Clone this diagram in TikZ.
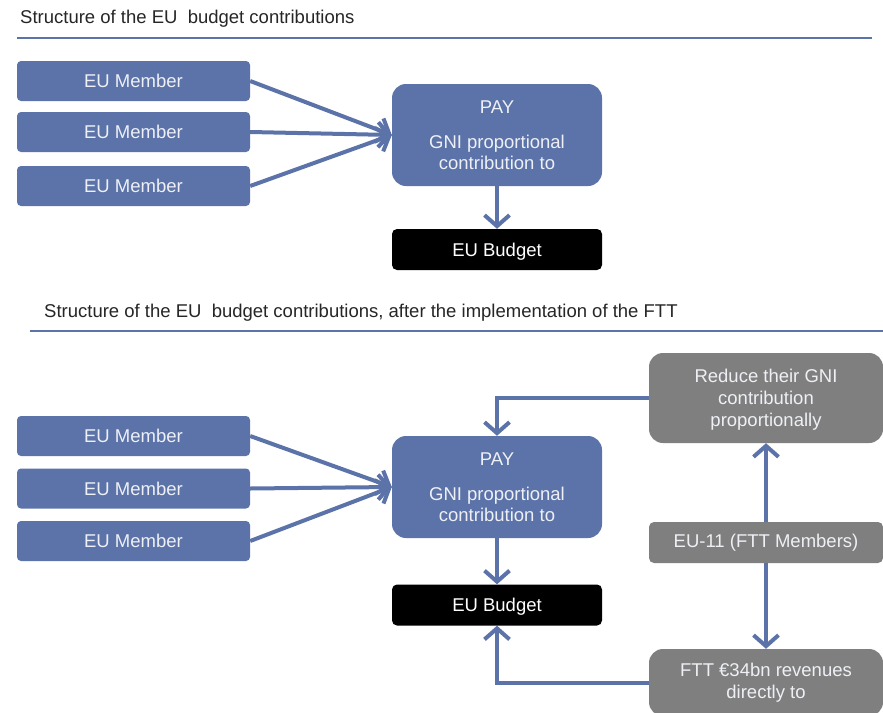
\documentclass[tikz,border=0pt]{standalone}
\usepackage{fontspec}
\setmainfont{Liberation Sans}
\usetikzlibrary{arrows.meta}
\definecolor{eublue}{HTML}{5B73A8}
\definecolor{eugray}{HTML}{7F7F7F}
\definecolor{boxtext}{HTML}{EEF0F5}
\definecolor{titletext}{HTML}{262626}
\begin{document}
\begin{tikzpicture}[x=1pt,y=-1pt,
  member/.style={fill=eublue, rounded corners=4pt, minimum width=233pt, minimum height=40pt, text=boxtext, font=\fontsize{18.5}{21}\selectfont, inner sep=0pt},
  paybox/.style={fill=eublue, rounded corners=14pt, minimum width=210pt, minimum height=102pt, text=boxtext, font=\fontsize{18.5}{21}\selectfont, align=center, inner sep=0pt},
  budget/.style={fill=black, rounded corners=5pt, minimum width=210pt, minimum height=41pt, text=white, font=\fontsize{18.5}{21}\selectfont, inner sep=0pt, text height=13.6pt, text depth=0pt},
  graybox/.style={fill=eugray, text=boxtext, align=center, minimum width=234pt, font=\fontsize{18.5}{22}\selectfont, inner sep=0pt},
  flow/.style={draw=eublue, line width=4pt, -{Straight Barb[length=11pt,width=25pt]}},
  title/.style={anchor=west, font=\fontsize{18.5}{21}\selectfont, text=titletext, inner sep=0pt},
  rulel/.style={draw=eublue, line width=2pt}
]
\useasboundingbox (0,0) rectangle (883,712);
\fill[white] (0,0) rectangle (883,712);

% ---------- top diagram ----------
\node[title] (t1) at (20,18.5) {Structure of the EU~ budget contributions};
\coordinate (r1a) at (17,38);
\coordinate (r1b) at (872,38);
\draw[rulel] (r1a) -- (r1b);

\node[member] (m1) at (133.5,81) {EU Member};
\node[member] (m2) at (133.5,132) {EU Member};
\node[member] (m3) at (133.5,186) {EU Member};
\node[paybox] (pay1) at (497,135) {PAY\\[14pt]GNI proportional\\contribution to};
\node[budget] (b1) at (497,249.5) {EU Budget};

\draw[flow] (m1.east) -- (pay1.west);
\draw[flow] (m2.east) -- (pay1.west);
\draw[flow] (m3.east) -- (pay1.west);
\draw[flow] (pay1.south) -- (b1.north);

% ---------- bottom diagram ----------
\node[title] (t2) at (44,312.5) {Structure of the EU~ budget contributions, after the implementation of the FTT};
\coordinate (r2a) at (30,331);
\coordinate (r2b) at (883,331);
\draw[rulel] (r2a) -- (r2b);

\node[member] (m4) at (133.5,436) {EU Member};
\node[member] (m5) at (133.5,488.5) {EU Member};
\node[member] (m6) at (133.5,541) {EU Member};
\node[paybox] (pay2) at (497,487) {PAY\\[14pt]GNI proportional\\contribution to};
\node[budget] (b2) at (497,605) {EU Budget};

\node[graybox, rounded corners=14pt, minimum height=90pt, text depth=0pt] (red) at (766,398) {Reduce their GNI\\contribution\\proportionally};
\node[graybox, rounded corners=5pt, minimum height=41pt] (eu11) at (766,542.5) {EU-11 (FTT Members)};
\node[graybox, rounded corners=14pt, minimum height=67pt] (ftt) at (766,682.5) {FTT €34bn revenues\\directly to};

\draw[flow] (m4.east) -- (pay2.west);
\draw[flow] (m5.east) -- (pay2.west);
\draw[flow] (m6.east) -- (pay2.west);
\draw[flow] (pay2.south) -- (b2.north);

\draw[flow] (red.west) -| (pay2.north);
\draw[flow] (eu11.north) -- (red.south);
\draw[flow] (eu11.south) -- (ftt.north);
\draw[flow] (ftt.west) -| (b2.south);
\end{tikzpicture}
\end{document}
